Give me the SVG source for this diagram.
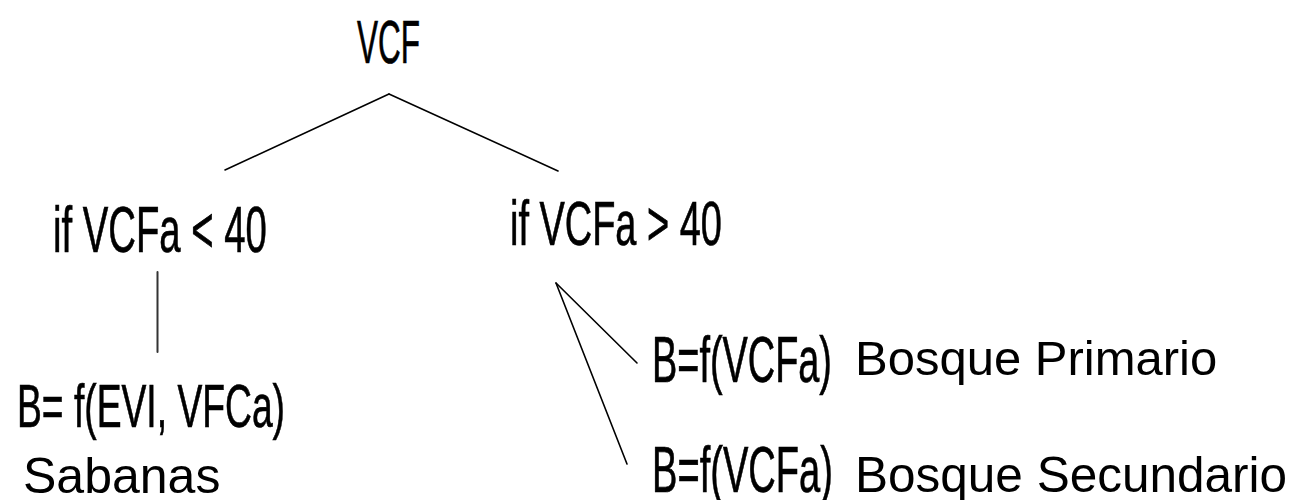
<svg xmlns="http://www.w3.org/2000/svg" width="1292" height="500" viewBox="0 0 1292 500">
  <style>
    .cond { font-family: "Liberation Sans", Arial, sans-serif; fill: #000; stroke: #000; stroke-width: 0.7; }
    .reg { font-family: "Liberation Sans", Arial, sans-serif; fill: #000; font-size: 49px; }
    .edge { stroke: #000; stroke-width: 1.6; fill: none; stroke-linecap: round; }
  </style>
  <rect width="1292" height="500" fill="#fff"/>
  <g id="connectors">
    <line class="edge" x1="389" y1="94" x2="225" y2="170"/>
    <line class="edge" x1="389" y1="94" x2="558" y2="171"/>
    <line class="edge" x1="157.5" y1="272" x2="157.5" y2="352" style="stroke:#333;stroke-width:2"/>
    <line class="edge" x1="556" y1="283" x2="637" y2="363"/>
    <line class="edge" x1="556" y1="283" x2="627" y2="464"/>
  </g>
  <g id="node-vcf">
    <text class="cond" x="0" y="0" font-size="61" transform="translate(357,63) scale(0.516,1)">VCF</text>
  </g>
  <g id="node-lt40">
    <text class="cond" x="0" y="0" font-size="65" transform="translate(53,252) scale(0.589,1)">if VCFa &lt; 40</text>
  </g>
  <g id="node-gt40">
    <text class="cond" x="0" y="0" font-size="63" transform="translate(510,245) scale(0.602,1)">if VCFa &gt; 40</text>
  </g>
  <g id="node-sabanas">
    <text class="cond" x="0" y="0" font-size="62" transform="translate(17,427) scale(0.601,1)">B= f(EVI, VFCa)</text>
    <text class="reg" x="23" y="493" style="font-size:50px">Sabanas</text>
  </g>
  <g id="node-primario">
    <text class="cond" x="0" y="0" font-size="65" transform="translate(652,382) scale(0.583,1)">B=f(VCFa)</text>
    <text class="reg" x="855" y="375">Bosque Primario</text>
  </g>
  <g id="node-secundario">
    <text class="cond" x="0" y="0" font-size="65" transform="translate(652,492) scale(0.586,1)">B=f(VCFa)</text>
    <text class="reg" x="855" y="492" style="font-size:49.5px">Bosque Secundario</text>
  </g>
</svg>
